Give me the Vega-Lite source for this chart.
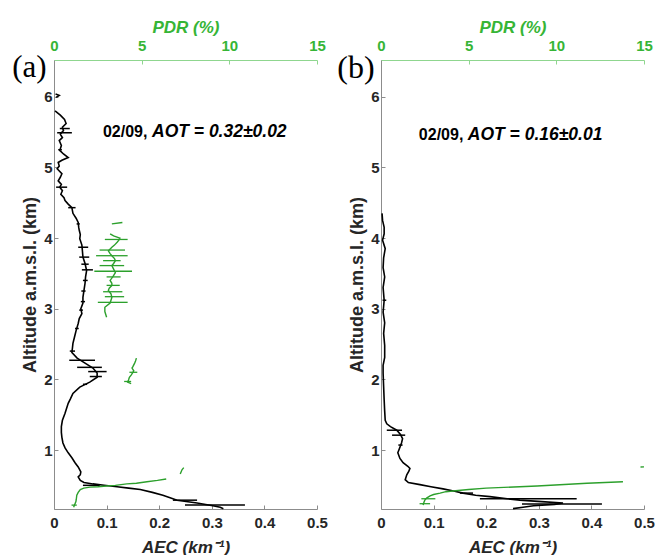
{
  "$schema": "https://vega.github.io/schema/vega-lite/v6.json",
  "padding": {"left": 12, "top": 18, "right": 0, "bottom": 0},
  "bounds": "flush",
  "spacing": 64,
  "config": {
    "view": {"stroke": null},
    "font": "Liberation Sans",
    "axis": {
      "grid": false,
      "labelFlush": false,
      "domainColor": "#8c8c8c",
      "tickColor": "#8c8c8c",
      "tickSize": -4,
      "labelFont": "Liberation Sans",
      "labelFontWeight": "bold",
      "labelFontSize": 15,
      "labelColor": "#262626",
      "titleFont": "Liberation Sans",
      "titleFontWeight": "bold",
      "titleFontSize": 17,
      "titleColor": "#262626"
    }
  },
  "datasets": {
    "aec": [
      {"panel": "a", "seg": 0, "alt": 6.04, "aec": 0.003},
      {"panel": "a", "seg": 0, "alt": 6.02, "aec": 0.010},
      {"panel": "a", "seg": 0, "alt": 5.99, "aec": 0.004},
      {"panel": "a", "seg": 1, "alt": 5.80, "aec": 0.002},
      {"panel": "a", "seg": 1, "alt": 5.74, "aec": 0.012},
      {"panel": "a", "seg": 1, "alt": 5.68, "aec": 0.020},
      {"panel": "a", "seg": 1, "alt": 5.62, "aec": 0.023},
      {"panel": "a", "seg": 1, "alt": 5.57, "aec": 0.016},
      {"panel": "a", "seg": 1, "alt": 5.52, "aec": 0.018},
      {"panel": "a", "seg": 1, "alt": 5.47, "aec": 0.012},
      {"panel": "a", "seg": 1, "alt": 5.42, "aec": 0.016},
      {"panel": "a", "seg": 1, "alt": 5.38, "aec": 0.010},
      {"panel": "a", "seg": 1, "alt": 5.31, "aec": 0.014},
      {"panel": "a", "seg": 1, "alt": 5.24, "aec": 0.011},
      {"panel": "a", "seg": 1, "alt": 5.19, "aec": 0.018},
      {"panel": "a", "seg": 1, "alt": 5.14, "aec": 0.027},
      {"panel": "a", "seg": 1, "alt": 5.10, "aec": 0.015},
      {"panel": "a", "seg": 1, "alt": 5.07, "aec": 0.008},
      {"panel": "a", "seg": 1, "alt": 5.02, "aec": 0.010},
      {"panel": "a", "seg": 1, "alt": 4.98, "aec": 0.006},
      {"panel": "a", "seg": 1, "alt": 4.91, "aec": 0.015},
      {"panel": "a", "seg": 1, "alt": 4.86, "aec": 0.012},
      {"panel": "a", "seg": 1, "alt": 4.81, "aec": 0.008},
      {"panel": "a", "seg": 1, "alt": 4.76, "aec": 0.014},
      {"panel": "a", "seg": 1, "alt": 4.72, "aec": 0.011},
      {"panel": "a", "seg": 1, "alt": 4.67, "aec": 0.016},
      {"panel": "a", "seg": 1, "alt": 4.62, "aec": 0.013},
      {"panel": "a", "seg": 1, "alt": 4.57, "aec": 0.019},
      {"panel": "a", "seg": 1, "alt": 4.53, "aec": 0.021},
      {"panel": "a", "seg": 1, "alt": 4.48, "aec": 0.027},
      {"panel": "a", "seg": 1, "alt": 4.43, "aec": 0.034},
      {"panel": "a", "seg": 1, "alt": 4.35, "aec": 0.036},
      {"panel": "a", "seg": 1, "alt": 4.28, "aec": 0.042},
      {"panel": "a", "seg": 1, "alt": 4.22, "aec": 0.046},
      {"panel": "a", "seg": 1, "alt": 4.15, "aec": 0.047},
      {"panel": "a", "seg": 1, "alt": 4.11, "aec": 0.048},
      {"panel": "a", "seg": 1, "alt": 4.05, "aec": 0.050},
      {"panel": "a", "seg": 1, "alt": 3.99, "aec": 0.049},
      {"panel": "a", "seg": 1, "alt": 3.90, "aec": 0.053},
      {"panel": "a", "seg": 1, "alt": 3.82, "aec": 0.054},
      {"panel": "a", "seg": 1, "alt": 3.73, "aec": 0.055},
      {"panel": "a", "seg": 1, "alt": 3.64, "aec": 0.059},
      {"panel": "a", "seg": 1, "alt": 3.54, "aec": 0.062},
      {"panel": "a", "seg": 1, "alt": 3.45, "aec": 0.060},
      {"panel": "a", "seg": 1, "alt": 3.36, "aec": 0.059},
      {"panel": "a", "seg": 1, "alt": 3.26, "aec": 0.057},
      {"panel": "a", "seg": 1, "alt": 3.16, "aec": 0.055},
      {"panel": "a", "seg": 1, "alt": 3.08, "aec": 0.055},
      {"panel": "a", "seg": 1, "alt": 3.00, "aec": 0.051},
      {"panel": "a", "seg": 1, "alt": 2.93, "aec": 0.053},
      {"panel": "a", "seg": 1, "alt": 2.86, "aec": 0.048},
      {"panel": "a", "seg": 1, "alt": 2.79, "aec": 0.046},
      {"panel": "a", "seg": 1, "alt": 2.69, "aec": 0.042},
      {"panel": "a", "seg": 1, "alt": 2.60, "aec": 0.039},
      {"panel": "a", "seg": 1, "alt": 2.51, "aec": 0.036},
      {"panel": "a", "seg": 1, "alt": 2.44, "aec": 0.035},
      {"panel": "a", "seg": 1, "alt": 2.38, "aec": 0.034},
      {"panel": "a", "seg": 1, "alt": 2.30, "aec": 0.044},
      {"panel": "a", "seg": 1, "alt": 2.23, "aec": 0.059},
      {"panel": "a", "seg": 1, "alt": 2.16, "aec": 0.074},
      {"panel": "a", "seg": 1, "alt": 2.09, "aec": 0.082},
      {"panel": "a", "seg": 1, "alt": 2.03, "aec": 0.082},
      {"panel": "a", "seg": 1, "alt": 1.96, "aec": 0.068},
      {"panel": "a", "seg": 1, "alt": 1.89, "aec": 0.049},
      {"panel": "a", "seg": 1, "alt": 1.80, "aec": 0.036},
      {"panel": "a", "seg": 1, "alt": 1.72, "aec": 0.031},
      {"panel": "a", "seg": 1, "alt": 1.66, "aec": 0.027},
      {"panel": "a", "seg": 1, "alt": 1.52, "aec": 0.021},
      {"panel": "a", "seg": 1, "alt": 1.42, "aec": 0.016},
      {"panel": "a", "seg": 1, "alt": 1.33, "aec": 0.014},
      {"panel": "a", "seg": 1, "alt": 1.25, "aec": 0.014},
      {"panel": "a", "seg": 1, "alt": 1.18, "aec": 0.015},
      {"panel": "a", "seg": 1, "alt": 1.10, "aec": 0.017},
      {"panel": "a", "seg": 1, "alt": 1.03, "aec": 0.021},
      {"panel": "a", "seg": 1, "alt": 0.96, "aec": 0.027},
      {"panel": "a", "seg": 1, "alt": 0.89, "aec": 0.034},
      {"panel": "a", "seg": 1, "alt": 0.82, "aec": 0.040},
      {"panel": "a", "seg": 1, "alt": 0.76, "aec": 0.046},
      {"panel": "a", "seg": 1, "alt": 0.69, "aec": 0.051},
      {"panel": "a", "seg": 1, "alt": 0.65, "aec": 0.050},
      {"panel": "a", "seg": 1, "alt": 0.62, "aec": 0.046},
      {"panel": "a", "seg": 1, "alt": 0.57, "aec": 0.050},
      {"panel": "a", "seg": 1, "alt": 0.54, "aec": 0.057},
      {"panel": "a", "seg": 1, "alt": 0.52, "aec": 0.074},
      {"panel": "a", "seg": 1, "alt": 0.50, "aec": 0.095},
      {"panel": "a", "seg": 1, "alt": 0.48, "aec": 0.120},
      {"panel": "a", "seg": 1, "alt": 0.46, "aec": 0.142},
      {"panel": "a", "seg": 1, "alt": 0.44, "aec": 0.164},
      {"panel": "a", "seg": 1, "alt": 0.40, "aec": 0.187},
      {"panel": "a", "seg": 1, "alt": 0.36, "aec": 0.207},
      {"panel": "a", "seg": 1, "alt": 0.32, "aec": 0.222},
      {"panel": "a", "seg": 1, "alt": 0.29, "aec": 0.234},
      {"panel": "a", "seg": 1, "alt": 0.25, "aec": 0.272},
      {"panel": "a", "seg": 1, "alt": 0.21, "aec": 0.302},
      {"panel": "a", "seg": 1, "alt": 0.19, "aec": 0.316},
      {"panel": "a", "seg": 1, "alt": 0.17, "aec": 0.322},
      {"panel": "b", "seg": 1, "alt": 4.35, "aec": 0.002},
      {"panel": "b", "seg": 1, "alt": 4.25, "aec": 0.003},
      {"panel": "b", "seg": 1, "alt": 4.15, "aec": 0.006},
      {"panel": "b", "seg": 1, "alt": 4.06, "aec": 0.006},
      {"panel": "b", "seg": 1, "alt": 3.97, "aec": 0.003},
      {"panel": "b", "seg": 1, "alt": 3.85, "aec": 0.008},
      {"panel": "b", "seg": 1, "alt": 3.72, "aec": 0.005},
      {"panel": "b", "seg": 1, "alt": 3.58, "aec": 0.004},
      {"panel": "b", "seg": 1, "alt": 3.45, "aec": 0.007},
      {"panel": "b", "seg": 1, "alt": 3.30, "aec": 0.004},
      {"panel": "b", "seg": 1, "alt": 3.12, "aec": 0.006},
      {"panel": "b", "seg": 1, "alt": 2.95, "aec": 0.004},
      {"panel": "b", "seg": 1, "alt": 2.80, "aec": 0.007},
      {"panel": "b", "seg": 1, "alt": 2.65, "aec": 0.005},
      {"panel": "b", "seg": 1, "alt": 2.48, "aec": 0.007},
      {"panel": "b", "seg": 1, "alt": 2.31, "aec": 0.007},
      {"panel": "b", "seg": 1, "alt": 2.20, "aec": 0.004},
      {"panel": "b", "seg": 1, "alt": 2.09, "aec": 0.004},
      {"panel": "b", "seg": 1, "alt": 1.90, "aec": 0.005},
      {"panel": "b", "seg": 1, "alt": 1.71, "aec": 0.006},
      {"panel": "b", "seg": 1, "alt": 1.55, "aec": 0.007},
      {"panel": "b", "seg": 1, "alt": 1.42, "aec": 0.008},
      {"panel": "b", "seg": 1, "alt": 1.37, "aec": 0.011},
      {"panel": "b", "seg": 1, "alt": 1.33, "aec": 0.018},
      {"panel": "b", "seg": 1, "alt": 1.28, "aec": 0.030},
      {"panel": "b", "seg": 1, "alt": 1.22, "aec": 0.037},
      {"panel": "b", "seg": 1, "alt": 1.16, "aec": 0.041},
      {"panel": "b", "seg": 1, "alt": 1.10, "aec": 0.039},
      {"panel": "b", "seg": 1, "alt": 1.04, "aec": 0.036},
      {"panel": "b", "seg": 1, "alt": 0.96, "aec": 0.032},
      {"panel": "b", "seg": 1, "alt": 0.88, "aec": 0.036},
      {"panel": "b", "seg": 1, "alt": 0.82, "aec": 0.042},
      {"panel": "b", "seg": 1, "alt": 0.77, "aec": 0.051},
      {"panel": "b", "seg": 1, "alt": 0.74, "aec": 0.055},
      {"panel": "b", "seg": 1, "alt": 0.70, "aec": 0.053},
      {"panel": "b", "seg": 1, "alt": 0.65, "aec": 0.049},
      {"panel": "b", "seg": 1, "alt": 0.58, "aec": 0.046},
      {"panel": "b", "seg": 1, "alt": 0.54, "aec": 0.052},
      {"panel": "b", "seg": 1, "alt": 0.51, "aec": 0.074},
      {"panel": "b", "seg": 1, "alt": 0.48, "aec": 0.095},
      {"panel": "b", "seg": 1, "alt": 0.45, "aec": 0.118},
      {"panel": "b", "seg": 1, "alt": 0.42, "aec": 0.138},
      {"panel": "b", "seg": 1, "alt": 0.39, "aec": 0.156},
      {"panel": "b", "seg": 1, "alt": 0.36, "aec": 0.180},
      {"panel": "b", "seg": 1, "alt": 0.34, "aec": 0.207},
      {"panel": "b", "seg": 1, "alt": 0.31, "aec": 0.240},
      {"panel": "b", "seg": 1, "alt": 0.29, "aec": 0.264},
      {"panel": "b", "seg": 1, "alt": 0.27, "aec": 0.305},
      {"panel": "b", "seg": 1, "alt": 0.25, "aec": 0.346},
      {"panel": "b", "seg": 1, "alt": 0.23, "aec": 0.330},
      {"panel": "b", "seg": 1, "alt": 0.21, "aec": 0.290},
      {"panel": "b", "seg": 1, "alt": 0.19, "aec": 0.270},
      {"panel": "b", "seg": 1, "alt": 0.17, "aec": 0.251}
    ],
    "aecErr": [
      {"panel": "a", "alt": 5.55, "lo": 0.011, "hi": 0.030},
      {"panel": "a", "alt": 5.49, "lo": 0.006, "hi": 0.034},
      {"panel": "a", "alt": 5.25, "lo": 0.008, "hi": 0.015},
      {"panel": "a", "alt": 4.72, "lo": 0.004, "hi": 0.025},
      {"panel": "a", "alt": 4.43, "lo": 0.027, "hi": 0.041},
      {"panel": "a", "alt": 4.20, "lo": 0.043, "hi": 0.049},
      {"panel": "a", "alt": 3.87, "lo": 0.046, "hi": 0.065},
      {"panel": "a", "alt": 3.73, "lo": 0.048, "hi": 0.067},
      {"panel": "a", "alt": 3.63, "lo": 0.052, "hi": 0.066},
      {"panel": "a", "alt": 3.55, "lo": 0.053, "hi": 0.074},
      {"panel": "a", "alt": 3.40, "lo": 0.055, "hi": 0.064},
      {"panel": "a", "alt": 3.25, "lo": 0.052, "hi": 0.060},
      {"panel": "a", "alt": 3.10, "lo": 0.051, "hi": 0.059},
      {"panel": "a", "alt": 2.98, "lo": 0.048, "hi": 0.055},
      {"panel": "a", "alt": 2.72, "lo": 0.040, "hi": 0.047},
      {"panel": "a", "alt": 2.40, "lo": 0.030, "hi": 0.040},
      {"panel": "a", "alt": 2.27, "lo": 0.029, "hi": 0.078},
      {"panel": "a", "alt": 2.17, "lo": 0.044, "hi": 0.091},
      {"panel": "a", "alt": 2.11, "lo": 0.065, "hi": 0.100},
      {"panel": "a", "alt": 2.04, "lo": 0.068, "hi": 0.091},
      {"panel": "a", "alt": 1.93, "lo": 0.055, "hi": 0.063},
      {"panel": "a", "alt": 0.50, "lo": 0.055, "hi": 0.087},
      {"panel": "a", "alt": 0.29, "lo": 0.226, "hi": 0.272},
      {"panel": "a", "alt": 0.22, "lo": 0.249, "hi": 0.363},
      {"panel": "b", "alt": 3.12, "lo": 0.003, "hi": 0.010},
      {"panel": "b", "alt": 1.28, "lo": 0.011, "hi": 0.040},
      {"panel": "b", "alt": 1.21, "lo": 0.021, "hi": 0.046},
      {"panel": "b", "alt": 1.07, "lo": 0.033, "hi": 0.041},
      {"panel": "b", "alt": 0.39, "lo": 0.150, "hi": 0.175},
      {"panel": "b", "alt": 0.31, "lo": 0.188, "hi": 0.372},
      {"panel": "b", "alt": 0.235, "lo": 0.268, "hi": 0.420}
    ],
    "pdr": [
      {"panel": "a", "seg": 0, "alt": 4.20, "pdr": 3.3},
      {"panel": "a", "seg": 0, "alt": 4.22, "pdr": 3.9},
      {"panel": "a", "seg": 1, "alt": 4.06, "pdr": 3.2},
      {"panel": "a", "seg": 1, "alt": 4.03, "pdr": 3.4},
      {"panel": "a", "seg": 1, "alt": 4.00, "pdr": 3.76},
      {"panel": "a", "seg": 1, "alt": 3.97, "pdr": 3.7},
      {"panel": "a", "seg": 1, "alt": 3.94, "pdr": 3.6},
      {"panel": "a", "seg": 1, "alt": 3.90, "pdr": 3.45},
      {"panel": "a", "seg": 1, "alt": 3.87, "pdr": 3.3},
      {"panel": "a", "seg": 1, "alt": 3.82, "pdr": 3.1},
      {"panel": "a", "seg": 1, "alt": 3.78, "pdr": 3.2},
      {"panel": "a", "seg": 1, "alt": 3.75, "pdr": 3.3},
      {"panel": "a", "seg": 1, "alt": 3.71, "pdr": 3.45},
      {"panel": "a", "seg": 1, "alt": 3.68, "pdr": 3.5},
      {"panel": "a", "seg": 1, "alt": 3.64, "pdr": 3.4},
      {"panel": "a", "seg": 1, "alt": 3.61, "pdr": 3.3},
      {"panel": "a", "seg": 1, "alt": 3.56, "pdr": 3.4},
      {"panel": "a", "seg": 1, "alt": 3.51, "pdr": 3.5},
      {"panel": "a", "seg": 1, "alt": 3.45, "pdr": 3.35},
      {"panel": "a", "seg": 1, "alt": 3.40, "pdr": 3.2},
      {"panel": "a", "seg": 1, "alt": 3.36, "pdr": 3.3},
      {"panel": "a", "seg": 1, "alt": 3.33, "pdr": 3.3},
      {"panel": "a", "seg": 1, "alt": 3.29, "pdr": 3.15},
      {"panel": "a", "seg": 1, "alt": 3.26, "pdr": 3.1},
      {"panel": "a", "seg": 1, "alt": 3.21, "pdr": 3.25},
      {"panel": "a", "seg": 1, "alt": 3.16, "pdr": 3.3},
      {"panel": "a", "seg": 1, "alt": 3.12, "pdr": 3.25},
      {"panel": "a", "seg": 1, "alt": 3.08, "pdr": 3.2},
      {"panel": "a", "seg": 1, "alt": 3.02, "pdr": 2.9},
      {"panel": "a", "seg": 1, "alt": 2.96, "pdr": 2.9},
      {"panel": "a", "seg": 1, "alt": 2.88, "pdr": 3.0},
      {"panel": "a", "seg": 2, "alt": 2.30, "pdr": 4.7},
      {"panel": "a", "seg": 2, "alt": 2.26, "pdr": 4.65},
      {"panel": "a", "seg": 2, "alt": 2.23, "pdr": 4.6},
      {"panel": "a", "seg": 2, "alt": 2.18, "pdr": 4.5},
      {"panel": "a", "seg": 2, "alt": 2.16, "pdr": 4.45},
      {"panel": "a", "seg": 2, "alt": 2.12, "pdr": 4.55},
      {"panel": "a", "seg": 2, "alt": 2.10, "pdr": 4.5},
      {"panel": "a", "seg": 2, "alt": 2.06, "pdr": 4.4},
      {"panel": "a", "seg": 2, "alt": 2.03, "pdr": 4.3},
      {"panel": "a", "seg": 2, "alt": 1.99, "pdr": 4.25},
      {"panel": "a", "seg": 2, "alt": 1.96, "pdr": 4.2},
      {"panel": "a", "seg": 2, "alt": 1.94, "pdr": 4.4},
      {"panel": "a", "seg": 3, "alt": 0.66, "pdr": 7.2},
      {"panel": "a", "seg": 3, "alt": 0.72, "pdr": 7.3},
      {"panel": "a", "seg": 3, "alt": 0.75, "pdr": 7.4},
      {"panel": "a", "seg": 4, "alt": 0.59, "pdr": 6.4},
      {"panel": "a", "seg": 4, "alt": 0.57, "pdr": 5.9},
      {"panel": "a", "seg": 4, "alt": 0.55, "pdr": 5.3},
      {"panel": "a", "seg": 4, "alt": 0.53, "pdr": 4.7},
      {"panel": "a", "seg": 4, "alt": 0.52, "pdr": 4.15},
      {"panel": "a", "seg": 4, "alt": 0.50, "pdr": 3.5},
      {"panel": "a", "seg": 4, "alt": 0.49, "pdr": 3.0},
      {"panel": "a", "seg": 4, "alt": 0.48, "pdr": 2.5},
      {"panel": "a", "seg": 4, "alt": 0.475, "pdr": 2.05},
      {"panel": "a", "seg": 4, "alt": 0.46, "pdr": 1.7},
      {"panel": "a", "seg": 4, "alt": 0.44, "pdr": 1.5},
      {"panel": "a", "seg": 4, "alt": 0.40, "pdr": 1.38},
      {"panel": "a", "seg": 4, "alt": 0.36, "pdr": 1.3},
      {"panel": "a", "seg": 4, "alt": 0.30, "pdr": 1.27},
      {"panel": "a", "seg": 4, "alt": 0.27, "pdr": 1.25},
      {"panel": "a", "seg": 4, "alt": 0.22, "pdr": 1.17},
      {"panel": "a", "seg": 4, "alt": 0.19, "pdr": 1.12},
      {"panel": "b", "seg": 1, "alt": 0.22, "pdr": 2.4},
      {"panel": "b", "seg": 1, "alt": 0.26, "pdr": 2.45},
      {"panel": "b", "seg": 1, "alt": 0.29, "pdr": 2.5},
      {"panel": "b", "seg": 1, "alt": 0.32, "pdr": 2.6},
      {"panel": "b", "seg": 1, "alt": 0.35, "pdr": 2.8},
      {"panel": "b", "seg": 1, "alt": 0.37, "pdr": 3.0},
      {"panel": "b", "seg": 1, "alt": 0.39, "pdr": 3.37},
      {"panel": "b", "seg": 1, "alt": 0.41, "pdr": 3.7},
      {"panel": "b", "seg": 1, "alt": 0.42, "pdr": 4.1},
      {"panel": "b", "seg": 1, "alt": 0.44, "pdr": 5.0},
      {"panel": "b", "seg": 1, "alt": 0.46, "pdr": 6.0},
      {"panel": "b", "seg": 1, "alt": 0.49, "pdr": 8.9},
      {"panel": "b", "seg": 1, "alt": 0.53, "pdr": 11.75},
      {"panel": "b", "seg": 1, "alt": 0.55, "pdr": 13.8},
      {"panel": "b", "seg": 2, "alt": 0.76, "pdr": 14.8},
      {"panel": "b", "seg": 2, "alt": 0.761, "pdr": 15.0}
    ],
    "pdrErr": [
      {"panel": "a", "alt": 3.98, "lo": 2.9, "hi": 4.2},
      {"panel": "a", "alt": 3.83, "lo": 2.6, "hi": 4.05},
      {"panel": "a", "alt": 3.75, "lo": 2.4, "hi": 4.2},
      {"panel": "a", "alt": 3.68, "lo": 2.8, "hi": 3.8},
      {"panel": "a", "alt": 3.61, "lo": 2.6, "hi": 4.0},
      {"panel": "a", "alt": 3.53, "lo": 2.3, "hi": 4.45},
      {"panel": "a", "alt": 3.45, "lo": 3.0, "hi": 3.8},
      {"panel": "a", "alt": 3.33, "lo": 3.0, "hi": 3.75},
      {"panel": "a", "alt": 3.24, "lo": 2.8, "hi": 3.9},
      {"panel": "a", "alt": 3.17, "lo": 2.9, "hi": 4.0},
      {"panel": "a", "alt": 3.09, "lo": 2.5, "hi": 4.2},
      {"panel": "a", "alt": 2.10, "lo": 4.3, "hi": 4.75},
      {"panel": "a", "alt": 1.97, "lo": 4.0, "hi": 4.4},
      {"panel": "a", "alt": 0.22, "lo": 1.0, "hi": 1.3},
      {"panel": "b", "alt": 0.31, "lo": 2.3, "hi": 3.1},
      {"panel": "b", "alt": 0.24, "lo": 2.2, "hi": 2.8}
    ]
  },
  "hconcat": [
    {
      "width": 263,
      "height": 449,
      "layer": [
        {
          "layer": [
            {
              "data": {"name": "aec"},
              "transform": [{"filter": "datum.panel == 'a'"}],
              "mark": {"type": "line", "color": "#000000", "strokeWidth": 1.6},
              "encoding": {
                "x": {"field": "aec", "type": "quantitative", "title": "AEC (km⁻¹)", "scale": {"domain": [0, 0.5], "nice": false}, "axis": {"orient": "bottom", "values": [0, 0.1, 0.2, 0.3, 0.4, 0.5], "format": "~g", "labelPadding": 10, "titlePadding": 9, "titleFontStyle": "italic"}},
                "y": {"field": "alt", "type": "quantitative", "title": "Altitude a.m.s.l. (km)", "scale": {"domain": [0.165, 6.52], "nice": false, "zero": false}, "axis": {"values": [1, 2, 3, 4, 5, 6], "format": "d", "labelPadding": 6, "titlePadding": 4, "titleFontSize": 18}},
                "detail": {"field": "seg"},
                "order": {"field": "alt", "sort": "descending"}
              }
            },
            {
              "data": {"name": "aecErr"},
              "transform": [{"filter": "datum.panel == 'a'"}],
              "mark": {"type": "rule", "color": "#000000", "strokeWidth": 1.5},
              "encoding": {
                "x": {"field": "lo", "type": "quantitative", "title": "AEC (km⁻¹)"},
                "x2": {"field": "hi"},
                "y": {"field": "alt", "type": "quantitative", "title": "Altitude a.m.s.l. (km)"}
              }
            },
            {
              "data": {"values": [{"t": "02/09,"}]},
              "mark": {"type": "text", "align": "left", "baseline": "middle", "fontSize": 16, "fontWeight": "bold", "color": "#000000"},
              "encoding": {"x": {"datum": 0.093}, "y": {"datum": 5.5}, "text": {"field": "t"}}
            },
            {
              "data": {"values": [{"t": "AOT = 0.32±0.02"}]},
              "mark": {"type": "text", "align": "left", "baseline": "middle", "fontSize": 17.5, "fontWeight": "bold", "fontStyle": "italic", "color": "#000000"},
              "encoding": {"x": {"datum": 0.1863}, "y": {"datum": 5.5}, "text": {"field": "t"}}
            },
            {
              "data": {"values": [{"t": "(a)"}]},
              "mark": {"type": "text", "align": "center", "baseline": "middle", "font": "Liberation Serif", "fontSize": 31, "color": "#000000"},
              "encoding": {"x": {"datum": -0.0466}, "y": {"datum": 6.4}, "text": {"field": "t"}}
            }
          ]
        },
        {
          "layer": [
            {
              "data": {"name": "pdr"},
              "transform": [{"filter": "datum.panel == 'a'"}],
              "mark": {"type": "line", "color": "#2ca02c", "strokeWidth": 1.4},
              "encoding": {
                "x": {"field": "pdr", "type": "quantitative", "title": "PDR (%)", "scale": {"domain": [0, 15], "nice": false}, "axis": {"orient": "top", "values": [0, 5, 10, 15], "labelPadding": 11, "titlePadding": 2, "labelColor": "#36b536", "titleColor": "#36b536", "domainColor": "#8fd68f", "tickColor": "#8fd68f", "titleFontStyle": "italic"}},
                "y": {"field": "alt", "type": "quantitative"},
                "detail": {"field": "seg"},
                "order": {"field": "alt", "sort": "descending"}
              }
            },
            {
              "data": {"name": "pdrErr"},
              "transform": [{"filter": "datum.panel == 'a'"}],
              "mark": {"type": "rule", "color": "#2ca02c", "strokeWidth": 1.3},
              "encoding": {
                "x": {"field": "lo", "type": "quantitative", "title": "PDR (%)"},
                "x2": {"field": "hi"},
                "y": {"field": "alt", "type": "quantitative"}
              }
            }
          ]
        }
      ],
      "resolve": {"scale": {"x": "independent"}, "axis": {"x": "independent"}}
    },
    {
      "width": 263,
      "height": 449,
      "layer": [
        {
          "layer": [
            {
              "data": {"name": "aec"},
              "transform": [{"filter": "datum.panel == 'b'"}],
              "mark": {"type": "line", "color": "#000000", "strokeWidth": 1.6},
              "encoding": {
                "x": {"field": "aec", "type": "quantitative", "title": "AEC (km⁻¹)", "scale": {"domain": [0, 0.5], "nice": false}, "axis": {"orient": "bottom", "values": [0, 0.1, 0.2, 0.3, 0.4, 0.5], "format": "~g", "labelPadding": 10, "titlePadding": 9, "titleFontStyle": "italic"}},
                "y": {"field": "alt", "type": "quantitative", "title": "Altitude a.m.s.l. (km)", "scale": {"domain": [0.165, 6.52], "nice": false, "zero": false}, "axis": {"values": [1, 2, 3, 4, 5, 6], "format": "d", "labelPadding": 6, "titlePadding": 4, "titleFontSize": 18}},
                "detail": {"field": "seg"},
                "order": {"field": "alt", "sort": "descending"}
              }
            },
            {
              "data": {"name": "aecErr"},
              "transform": [{"filter": "datum.panel == 'b'"}],
              "mark": {"type": "rule", "color": "#000000", "strokeWidth": 1.5},
              "encoding": {
                "x": {"field": "lo", "type": "quantitative", "title": "AEC (km⁻¹)"},
                "x2": {"field": "hi"},
                "y": {"field": "alt", "type": "quantitative", "title": "Altitude a.m.s.l. (km)"}
              }
            },
            {
              "data": {"values": [{"t": "02/09,"}]},
              "mark": {"type": "text", "align": "left", "baseline": "middle", "fontSize": 16, "fontWeight": "bold", "color": "#000000"},
              "encoding": {"x": {"datum": 0.072}, "y": {"datum": 5.46}, "text": {"field": "t"}}
            },
            {
              "data": {"values": [{"t": "AOT = 0.16±0.01"}]},
              "mark": {"type": "text", "align": "left", "baseline": "middle", "fontSize": 17.5, "fontWeight": "bold", "fontStyle": "italic", "color": "#000000"},
              "encoding": {"x": {"datum": 0.165}, "y": {"datum": 5.46}, "text": {"field": "t"}}
            },
            {
              "data": {"values": [{"t": "(b)"}]},
              "mark": {"type": "text", "align": "center", "baseline": "middle", "font": "Liberation Serif", "fontSize": 32, "color": "#000000"},
              "encoding": {"x": {"datum": -0.0475}, "y": {"datum": 6.4}, "text": {"field": "t"}}
            }
          ]
        },
        {
          "layer": [
            {
              "data": {"name": "pdr"},
              "transform": [{"filter": "datum.panel == 'b'"}],
              "mark": {"type": "line", "color": "#2ca02c", "strokeWidth": 1.4},
              "encoding": {
                "x": {"field": "pdr", "type": "quantitative", "title": "PDR (%)", "scale": {"domain": [0, 15], "nice": false}, "axis": {"orient": "top", "values": [0, 5, 10, 15], "labelPadding": 11, "titlePadding": 2, "labelColor": "#36b536", "titleColor": "#36b536", "domainColor": "#8fd68f", "tickColor": "#8fd68f", "titleFontStyle": "italic"}},
                "y": {"field": "alt", "type": "quantitative"},
                "detail": {"field": "seg"},
                "order": {"field": "alt", "sort": "descending"}
              }
            },
            {
              "data": {"name": "pdrErr"},
              "transform": [{"filter": "datum.panel == 'b'"}],
              "mark": {"type": "rule", "color": "#2ca02c", "strokeWidth": 1.3},
              "encoding": {
                "x": {"field": "lo", "type": "quantitative", "title": "PDR (%)"},
                "x2": {"field": "hi"},
                "y": {"field": "alt", "type": "quantitative"}
              }
            }
          ]
        }
      ],
      "resolve": {"scale": {"x": "independent"}, "axis": {"x": "independent"}}
    }
  ]
}
